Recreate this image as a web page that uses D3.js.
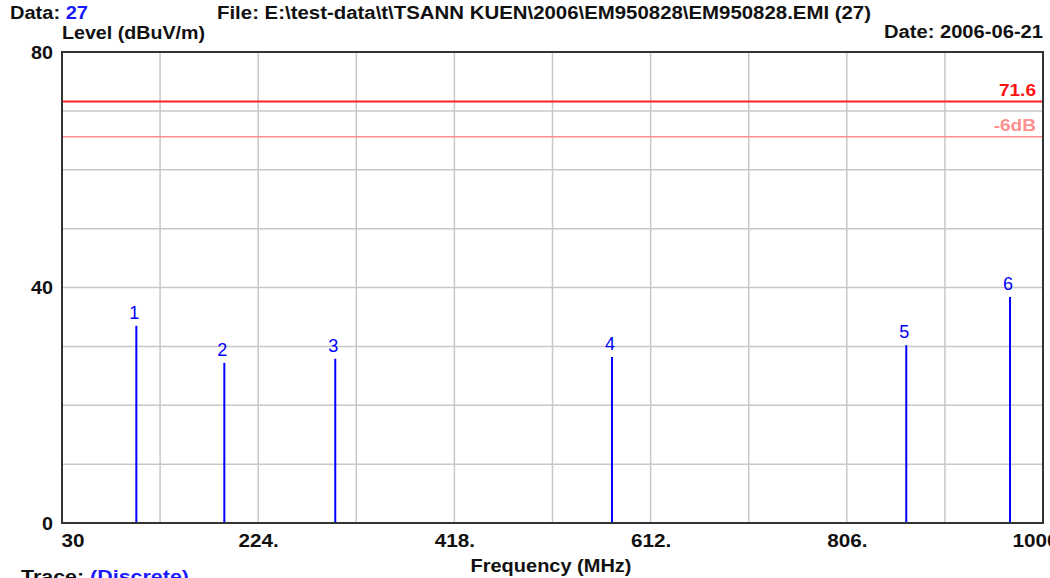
<!DOCTYPE html>
<html><head><meta charset="utf-8">
<script src="https://cdn.jsdelivr.net/npm/d3@7"></script>
<style>
html,body{margin:0;padding:0;background:#fff;}
svg{display:block;font-family:"Liberation Sans",Arial,sans-serif;}
</style></head>
<body><svg id="c" width="1050" height="578"></svg>
<script>
// ---- data ----
const markerIds = ["1","2","3","4","5","6"];
const markerFreq = [103.5, 190.5, 300.2, 573.8, 864.8, 967.4];
const markerLevel = [33.5, 27.2, 27.9, 28.2, 30.2, 38.4];
const xTickValues = [30, 224, 418, 612, 806, 1000];
const xTickLabels = ["30", "224.", "418.", "612.", "806.", "1000"];
const xGridValues = [127, 224, 321, 418, 515, 612, 709, 806, 903];
const yTickValues = [0, 40, 80];
const yGridValues = [10, 20, 30, 40, 50, 60, 70];
const limitValue = 71.6;
const marginValue = 65.6;

const svg = d3.select("#c");
const L = 62, R = 1043, T = 52, B = 523;
const x = d3.scaleLinear().domain([30, 1000]).range([L, R]);
const y = d3.scaleLinear().domain([0, 80]).range([B, T]);

function stretch(sel, f) {
  sel.each(function () {
    const w = this.getComputedTextLength();
    d3.select(this).attr("textLength", (w * f).toFixed(1)).attr("lengthAdjust", "spacingAndGlyphs");
  });
}

// grid
svg.append("g").selectAll("line").data(xGridValues).join("line")
  .attr("x1", d => x(d)).attr("x2", d => x(d)).attr("y1", T).attr("y2", B)
  .attr("stroke", "#c8c8c8").attr("stroke-width", 1.5);
svg.append("g").selectAll("line").data(yGridValues).join("line")
  .attr("x1", L).attr("x2", R).attr("y1", d => y(d)).attr("y2", d => y(d))
  .attr("stroke", "#c8c8c8").attr("stroke-width", 1.5);

// limit lines
svg.append("line").attr("x1", L).attr("x2", R).attr("y1", y(limitValue)).attr("y2", y(limitValue))
  .attr("stroke", "#ff2020").attr("stroke-width", 2);
svg.append("line").attr("x1", L).attr("x2", R).attr("y1", y(marginValue)).attr("y2", y(marginValue))
  .attr("stroke", "#ff8c8c").attr("stroke-width", 1.5);
stretch(svg.append("text").attr("x", 1036).attr("y", y(limitValue) - 5).attr("text-anchor", "end")
  .attr("font-size", 17).attr("font-weight", "bold").attr("fill", "#ff1010").text(String(limitValue)), 1.12);
stretch(svg.append("text").attr("x", 1036).attr("y", y(marginValue) - 6).attr("text-anchor", "end")
  .attr("font-size", 17).attr("font-weight", "bold").attr("fill", "#ff9090").text("-6dB"), 1.12);

// markers
const data = markerIds.map((id, i) => ({id, f: markerFreq[i], v: markerLevel[i]}));
svg.append("g").selectAll("line").data(data).join("line")
  .attr("x1", d => x(d.f)).attr("x2", d => x(d.f)).attr("y1", B).attr("y2", d => y(d.v))
  .attr("stroke", "#0000ff").attr("stroke-width", 2);
svg.append("g").selectAll("text").data(data).join("text")
  .attr("x", d => x(d.f) - 2).attr("y", d => y(d.v) - 7).attr("text-anchor", "middle")
  .attr("font-size", 18).attr("fill", "#0000ff").text(d => d.id);

// frame
svg.append("rect").attr("x", L).attr("y", T).attr("width", R - L).attr("height", B - T)
  .attr("fill", "none").attr("stroke", "#333").attr("stroke-width", 2);

// axes
const xAxis = d3.axisBottom(x).tickValues(xTickValues).tickSize(0)
  .tickFormat((d, i) => xTickLabels[i]);
const gx = svg.append("g").attr("transform", `translate(0,${B})`).call(xAxis);
gx.select(".domain").remove();
gx.selectAll("text").attr("font-size", 18).attr("font-weight", "bold").attr("fill", "#111")
  .attr("font-family", "Liberation Sans, Arial, sans-serif").attr("dy", null).attr("y", 24);
gx.selectAll(".tick text").filter((d) => d === 30).attr("text-anchor", "start").attr("x", -1);
gx.selectAll(".tick text").filter((d) => d === 1000).attr("text-anchor", "start").attr("x", -31);
stretch(gx.selectAll("text"), 1.15);

const yAxis = d3.axisLeft(y).tickValues(yTickValues).tickSize(0).tickFormat(d3.format("d"));
const gy = svg.append("g").attr("transform", `translate(${L},0)`).call(yAxis);
gy.select(".domain").remove();
gy.selectAll("text").attr("font-size", 18).attr("font-weight", "bold").attr("fill", "#111")
  .attr("font-family", "Liberation Sans, Arial, sans-serif").attr("x", -9).attr("dy", "0.36em");
stretch(gy.selectAll("text"), 1.1);

// titles
const hdr = svg.append("text").attr("x", 10).attr("y", 19).attr("font-size", 18).attr("font-weight", "bold");
hdr.append("tspan").attr("fill", "#111").text("Data: ");
hdr.append("tspan").attr("fill", "#1a1aff").text("27");
hdr.attr("textLength", 78).attr("lengthAdjust", "spacingAndGlyphs");
svg.append("text").attr("x", 217).attr("y", 19).attr("font-size", 18).attr("font-weight", "bold")
  .attr("fill", "#111").attr("textLength", 654).attr("lengthAdjust", "spacingAndGlyphs")
  .text("File: E:\\test-data\\t\\TSANN KUEN\\2006\\EM950828\\EM950828.EMI  (27)");
svg.append("text").attr("x", 62).attr("y", 39).attr("font-size", 18).attr("font-weight", "bold")
  .attr("fill", "#111").attr("textLength", 143).attr("lengthAdjust", "spacingAndGlyphs").text("Level (dBuV/m)");
svg.append("text").attr("x", 1043).attr("y", 38).attr("font-size", 18).attr("font-weight", "bold")
  .attr("fill", "#111").attr("text-anchor", "end").attr("textLength", 159).attr("lengthAdjust", "spacingAndGlyphs")
  .text("Date: 2006-06-21");
svg.append("text").attr("x", 551).attr("y", 572).attr("font-size", 18).attr("font-weight", "bold")
  .attr("fill", "#111").attr("text-anchor", "middle").attr("textLength", 161).attr("lengthAdjust", "spacingAndGlyphs")
  .text("Frequency (MHz)");
const tr = svg.append("text").attr("x", 21).attr("y", 583).attr("font-size", 18).attr("font-weight", "bold");
tr.append("tspan").attr("fill", "#111").text("Trace: ");
tr.append("tspan").attr("fill", "#1a1aff").text("(Discrete)");
tr.attr("textLength", 168).attr("lengthAdjust", "spacingAndGlyphs");
</script></body></html>
